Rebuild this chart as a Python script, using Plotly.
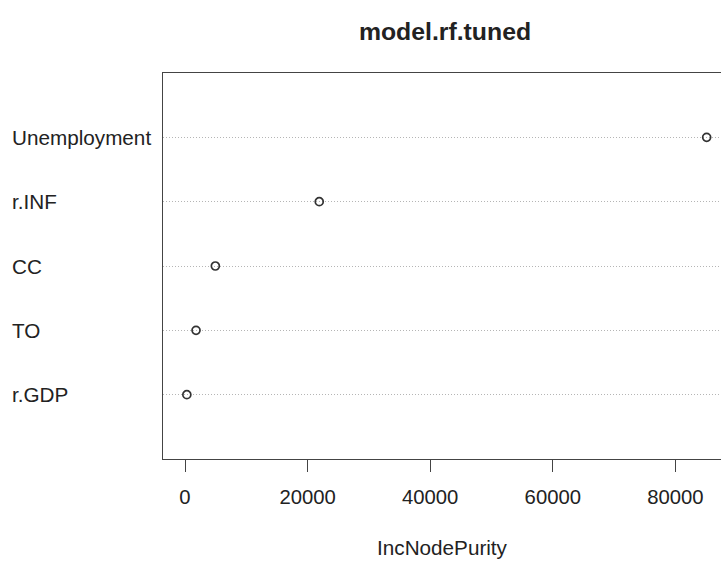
import plotly.graph_objects as go

# Data (bottom to top, as in the dot chart)
categories = ["r.GDP", "TO", "CC", "r.INF", "Unemployment"]
inc_node_purity = [300, 1800, 4950, 21900, 85100]
x_ticks = [0, 20000, 40000, 60000, 80000]

W, H = 721, 563
L, R, T = 163, 0, 73
B = H - 459
FONT = "Liberation Sans, Arial, sans-serif"
INK = "#222222"

fig = go.Figure()
fig.add_trace(go.Scatter(
    x=inc_node_purity, y=categories, mode="markers",
    marker=dict(symbol="circle-open", size=8, color="#333333",
                line=dict(width=1.7, color="#333333")),
    showlegend=False, hoverinfo="x+y",
))

# left-aligned category labels placed on the category axis
pw = W - L - R
for c in categories:
    fig.add_annotation(x=(10 - L) / pw, xref="paper", y=c, yref="y",
                       text=c, showarrow=False, xanchor="left",
                       font=dict(family=FONT, size=20.7, color=INK))

fig.update_layout(
    width=W, height=H,
    margin=dict(l=L, r=R, t=T, b=B, pad=0),
    paper_bgcolor="white", plot_bgcolor="white",
    title=dict(text="<b>model.rf.tuned</b>", x=445 / W, xanchor="center",
               xref="container", y=1 - 31 / H, yanchor="middle", yref="container",
               font=dict(family=FONT, size=24.8, color=INK)),
    font=dict(family=FONT, size=20, color=INK),
)
fig.update_xaxes(
    range=[-3589, 87440], tickvals=x_ticks, tickformat="d",
    showgrid=False, zeroline=False,
    showline=True, mirror=True, linecolor="#444444", linewidth=1,
    ticks="outside", ticklen=12, tickcolor="#444444", tickwidth=1,
    ticklabelstandoff=8,
    tickfont=dict(family=FONT, size=20.3, color=INK),
    title=dict(text="IncNodePurity", font=dict(family=FONT, size=20.7, color=INK), standoff=33),
)
fig.update_yaxes(
    type="category", categoryorder="array", categoryarray=categories,
    range=[-1, 5], showticklabels=False, ticks="",
    showgrid=True, gridcolor="#b5b5b5", griddash="1px,2px", gridwidth=1,
    zeroline=False, showline=True, mirror=False, linecolor="#444444", linewidth=1,
)

fig.write_html("out.html", config={"displayModeBar": False},
               post_script="document.body.style.margin='0';document.body.style.overflow='hidden';")
